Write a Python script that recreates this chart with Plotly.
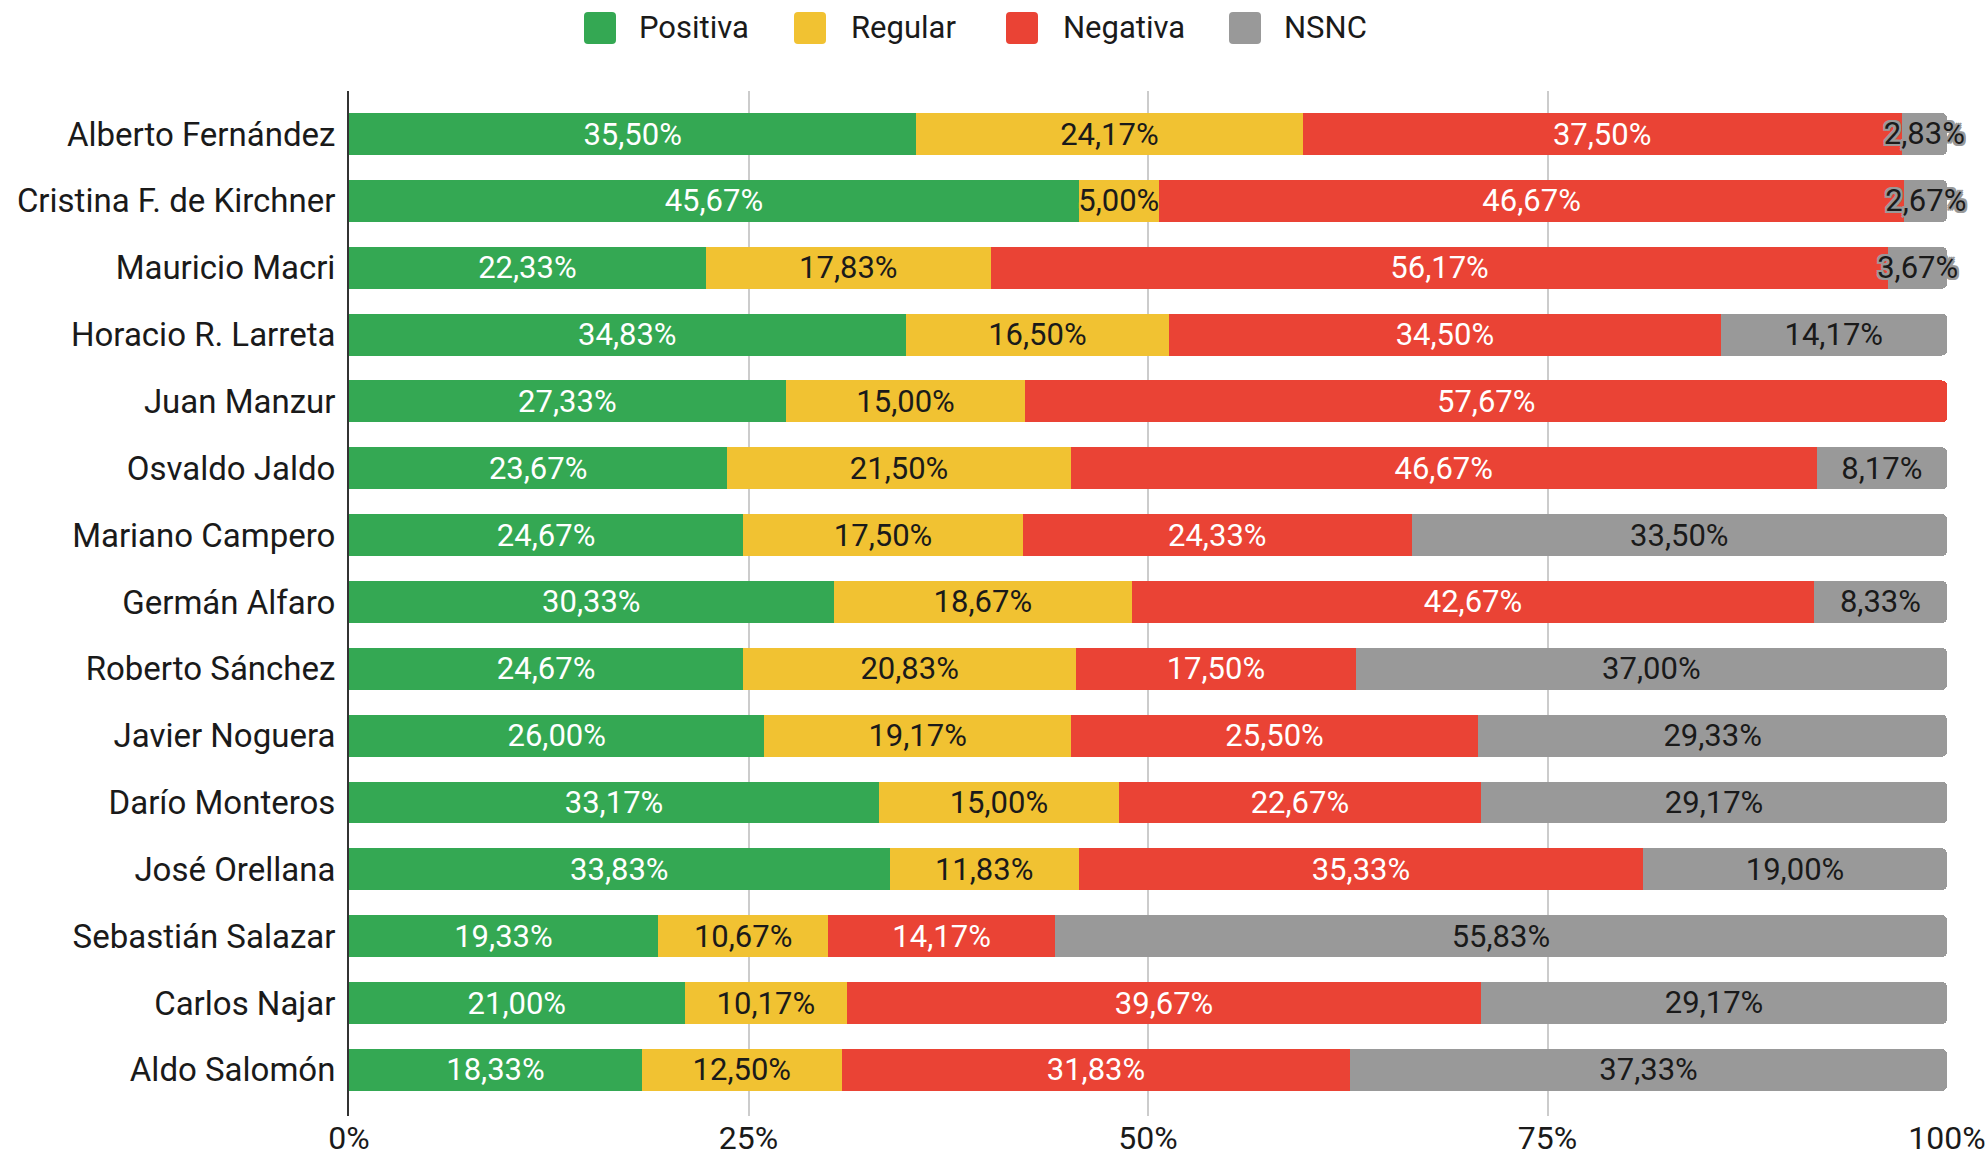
import plotly.graph_objects as go

candidates = [
    "Alberto Fernández", "Cristina F. de Kirchner", "Mauricio Macri",
    "Horacio R. Larreta", "Juan Manzur", "Osvaldo Jaldo", "Mariano Campero",
    "Germán Alfaro", "Roberto Sánchez", "Javier Noguera", "Darío Monteros",
    "José Orellana", "Sebastián Salazar", "Carlos Najar", "Aldo Salomón",
]
positiva = [35.50, 45.67, 22.33, 34.83, 27.33, 23.67, 24.67, 30.33, 24.67, 26.00, 33.17, 33.83, 19.33, 21.00, 18.33]
regular = [24.17, 5.00, 17.83, 16.50, 15.00, 21.50, 17.50, 18.67, 20.83, 19.17, 15.00, 11.83, 10.67, 10.17, 12.50]
negativa = [37.50, 46.67, 56.17, 34.50, 57.67, 46.67, 24.33, 42.67, 17.50, 25.50, 22.67, 35.33, 14.17, 39.67, 31.83]
nsnc = [2.83, 2.67, 3.67, 14.17, None, 8.17, 33.50, 8.33, 37.00, 29.33, 29.17, 19.00, 55.83, 29.17, 37.33]

series_names = ["Positiva", "Regular", "Negativa", "NSNC"]
series_values = [positiva, regular, negativa, nsnc]
series_colors = ["#34A853", "#F1C232", "#EA4335", "#999999"]
text_colors = ["#FFFFFF", "#1A1A1A", "#FFFFFF", "#1A1A1A"]
x_ticks = [0, 25, 50, 75, 100]
x_tick_labels = ["0%", "25%", "50%", "75%", "100%"]

FONT = "Roboto"
FS = 31
FS_Y = 33
FS_X = 32
Y_RANGE = [14.69, -0.644]


def outline(c, w=2):
    parts = []
    for dx in (-w, 0, w):
        for dy in (-w, 0, w):
            if dx or dy:
                parts.append(f"{dx}px {dy}px 0 {c}")
    return ", ".join(parts)


fig = go.Figure()
for i, (name, vals, col, tcol) in enumerate(zip(series_names, series_values, series_colors, text_colors)):
    last = i == len(series_names) - 1
    fig.add_trace(go.Bar(
        y=candidates, x=vals, name=name, orientation="h",
        marker=dict(color=col, line=dict(width=0)),
        texttemplate=None if last else "%{x:.2f}%",
        textposition="none" if last else "inside",
        insidetextanchor="middle", textangle=0, constraintext="none",
        textfont=dict(family=FONT, size=FS, color=tcol, shadow=outline(col)),
        showlegend=False, hoverinfo="x+name",
    ))

# NSNC labels: centred on each NSNC segment, allowed to spill past the axis
nsnc_mid, nsnc_y, nsnc_txt = [], [], []
for idx, (p, r_, n, v) in enumerate(zip(positiva, regular, negativa, nsnc)):
    if v is None:
        continue
    nsnc_mid.append(p + r_ + n + v / 2)
    nsnc_y.append(idx + 0.04)  # category index on an overlaid numeric axis
    nsnc_txt.append(f"{v:.2f}%".replace(".", ","))
fig.add_trace(go.Scatter(
    x=nsnc_mid, y=nsnc_y, text=nsnc_txt, mode="text", yaxis="y2",
    textposition="middle center", cliponaxis=False,
    textfont=dict(family=FONT, size=FS, color=text_colors[3],
                  shadow=outline(series_colors[3])),
    showlegend=False, hoverinfo="skip",
))

# Plot area in page pixels
L, R, T, B = 349, 1947, 91, 1116
W, H = R - L, B - T


def px_x(p):
    return (p - L) / W


def px_y(p):
    return (B - p) / H


shapes = []
annotations = []
sq_left = [584, 794, 1006, 1229]
txt_left = [637, 849, 1061, 1282]
sq = 32
cy = 28
rr = 4
for name, col, sx, tx in zip(series_names, series_colors, sq_left, txt_left):
    x0, x1 = sx, sx + sq
    y0, y1 = cy - sq / 2, cy + sq / 2
    pth = (
        f"M{px_x(x0 + rr)},{px_y(y0)} L{px_x(x1 - rr)},{px_y(y0)} "
        f"Q{px_x(x1)},{px_y(y0)} {px_x(x1)},{px_y(y0 + rr)} "
        f"L{px_x(x1)},{px_y(y1 - rr)} Q{px_x(x1)},{px_y(y1)} {px_x(x1 - rr)},{px_y(y1)} "
        f"L{px_x(x0 + rr)},{px_y(y1)} Q{px_x(x0)},{px_y(y1)} {px_x(x0)},{px_y(y1 - rr)} "
        f"L{px_x(x0)},{px_y(y0 + rr)} Q{px_x(x0)},{px_y(y0)} {px_x(x0 + rr)},{px_y(y0)} Z"
    )
    shapes.append(dict(type="path", xref="paper", yref="paper", path=pth,
                       fillcolor=col, line=dict(width=0)))
    annotations.append(dict(xref="paper", yref="paper", x=px_x(tx), y=px_y(cy),
                            xanchor="left", yanchor="middle", text=name,
                            showarrow=False,
                            font=dict(family=FONT, size=FS, color="#1A1A1A")))

fig.update_layout(
    width=1988, height=1160, autosize=False,
    barmode="stack", bargap=0.372, barcornerradius=5,
    separators=",.",
    uniformtext=dict(minsize=FS, mode="show"),
    paper_bgcolor="white", plot_bgcolor="white",
    margin=dict(l=L, r=1988 - R, t=T, b=1160 - B, pad=0, autoexpand=False),
    font=dict(family=FONT, size=FS, color="#1A1A1A"),
    shapes=shapes, annotations=annotations,
    showlegend=False,
    yaxis2=dict(overlaying="y", range=Y_RANGE, visible=False,
                showgrid=False, zeroline=False, automargin=False),
)
fig.update_xaxes(
    range=[0, 100], tickvals=x_ticks, ticktext=x_tick_labels,
    showgrid=True, gridcolor="#CCCCCC", gridwidth=2,
    zeroline=False, showline=False, ticks="", ticklabelstandoff=0,
    automargin=False,
    tickfont=dict(family=FONT, size=FS_X, color="#1A1A1A"),
)
fig.update_layout(yaxis=dict(
    type="category", range=Y_RANGE,
    showgrid=False, zeroline=False,
    showline=True, linecolor="#333333", linewidth=2,
    ticks="", ticklabelstandoff=5, automargin=False,
    tickfont=dict(family=FONT, size=FS_Y, color="#1A1A1A"),
))

fig.write_html(
    "out.html",
    config={"displayModeBar": False},
    post_script="document.body.style.margin='0';document.body.style.overflow='hidden';",
)
